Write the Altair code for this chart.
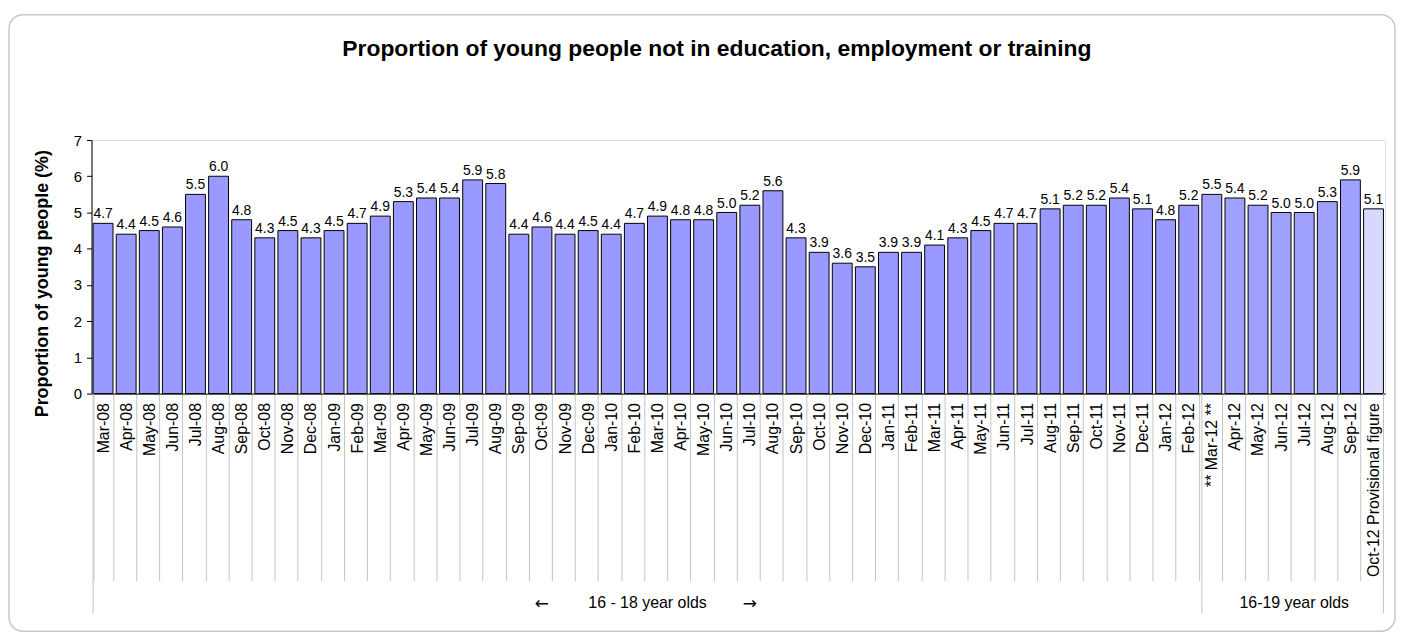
import altair as alt
import pandas as pd

months = ["Mar-08", "Apr-08", "May-08", "Jun-08", "Jul-08", "Aug-08", "Sep-08", "Oct-08", "Nov-08", "Dec-08",
          "Jan-09", "Feb-09", "Mar-09", "Apr-09", "May-09", "Jun-09", "Jul-09", "Aug-09", "Sep-09", "Oct-09",
          "Nov-09", "Dec-09", "Jan-10", "Feb-10", "Mar-10", "Apr-10", "May-10", "Jun-10", "Jul-10", "Aug-10",
          "Sep-10", "Oct-10", "Nov-10", "Dec-10", "Jan-11", "Feb-11", "Mar-11", "Apr-11", "May-11", "Jun-11",
          "Jul-11", "Aug-11", "Sep-11", "Oct-11", "Nov-11", "Dec-11", "Jan-12", "Feb-12", "** Mar-12 **", "Apr-12",
          "May-12", "Jun-12", "Jul-12", "Aug-12", "Sep-12", "Oct-12 Provisional figure"]
values = [4.7, 4.4, 4.5, 4.6, 5.5, 6.0, 4.8, 4.3, 4.5, 4.3,
          4.5, 4.7, 4.9, 5.3, 5.4, 5.4, 5.9, 5.8, 4.4, 4.6,
          4.4, 4.5, 4.4, 4.7, 4.9, 4.8, 4.8, 5.0, 5.2, 5.6,
          4.3, 3.9, 3.6, 3.5, 3.9, 3.9, 4.1, 4.3, 4.5, 4.7,
          4.7, 5.1, 5.2, 5.2, 5.4, 5.1, 4.8, 5.2, 5.5, 5.4,
          5.2, 5.0, 5.0, 5.3, 5.9, 5.1]
kinds = ["16-18"] * 48 + ["16-19"] * 7 + ["provisional"]
y_ticks = [0, 1, 2, 3, 4, 5, 6, 7]

group_names = ["16 - 18 year olds", "16-19 year olds"]
group_centers = ["Mar-10", "Jul-12"]
arrows = ["←", "→"]
arrow_at = ["Oct-09", "Jul-10"]
group_starts = ["Mar-08", "** Mar-12 **"]
group_end = ["Oct-12 Provisional figure"]

TITLE = "Proportion of young people not in education, employment or training"
FONT = "Liberation Sans"

df = pd.DataFrame({"month": months, "value": values, "kind": kinds,
                   "label": [f"{v:.1f}" for v in values]})

xscale = alt.Scale(domain=months, paddingInner=0.14, paddingOuter=0.07)
yscale = alt.Scale(domain=[0, 7], nice=False)

x_axis = alt.Axis(title=None, labelAngle=-90, labelFontSize=16, labelFont=FONT, labelColor="black",
                  tickBand="extent", tickSize=188, tickColor="#c4c4c4", tickWidth=1,
                  labelPadding=-179, domainColor="black", domainWidth=1, labelOverlap=False)
y_axis = alt.Axis(title="Proportion of young people (%)", values=y_ticks, grid=False,
                  domainColor="black", tickColor="black", tickSize=5, labelPadding=5,
                  labelFontSize=15, labelFont=FONT, labelColor="black", labelOverlap=False,
                  titleFontSize=18, titleFont=FONT, titleFontWeight="bold", titleColor="black",
                  titleAngle=-90, titleX=-49, titleY=144, titleBaseline="middle", titleAlign="center")

X = alt.X("month:N", scale=xscale, axis=x_axis, sort=None)
Y = alt.Y("value:Q", scale=yscale, axis=y_axis)

base = alt.Chart(df)

bars = base.mark_bar(stroke="black", strokeWidth=1).encode(
    x=X, y=Y,
    fill=alt.Fill("kind:N", scale=alt.Scale(domain=["16-18", "16-19", "provisional"],
                                            range=["#9999FF", "#A0A0FF", "#D8D8FF"]), legend=None),
)

texts = base.mark_text(baseline="bottom", dy=-2, fontSize=14, font=FONT, color="black").encode(
    x=X, y=Y, text="label:N",
)

rules_start = alt.Chart(pd.DataFrame({"month": group_starts})).mark_rule(color="#c4c4c4", strokeWidth=1).encode(
    x=alt.X("month:N", scale=xscale, axis=x_axis, bandPosition=0, sort=None),
    y=alt.value(255), y2=alt.value(476),
)
rules_end = alt.Chart(pd.DataFrame({"month": group_end})).mark_rule(color="#c4c4c4", strokeWidth=1).encode(
    x=alt.X("month:N", scale=xscale, axis=x_axis, bandPosition=1, sort=None),
    y=alt.value(255), y2=alt.value(476),
)

group_text = alt.Chart(pd.DataFrame({"month": group_centers, "name": group_names})).mark_text(
    fontSize=16, font=FONT, color="black", baseline="middle", align="center").encode(
    x=alt.X("month:N", scale=xscale, axis=x_axis, bandPosition=0, sort=None),
    y=alt.value(466),
    text="name:N",
)

arrow_text = alt.Chart(pd.DataFrame({"month": arrow_at, "name": arrows})).mark_text(
    fontSize=17, font="DejaVu Sans", color="black", baseline="middle", align="center").encode(
    x=alt.X("month:N", scale=xscale, axis=x_axis, sort=None),
    y=alt.value(467),
    text="name:N",
)

title = alt.Chart(pd.DataFrame({"t": [TITLE]})).mark_text(
    fontSize=23, font=FONT, fontWeight="bold", color="black", align="center", baseline="alphabetic").encode(
    x=alt.value(629), y=alt.value(-85), text="t:N")

frame = alt.Chart(pd.DataFrame({"a": [0]})).mark_rect(
    fill="white", fillOpacity=0, stroke="#c8c8c8", strokeWidth=1.5, cornerRadius=14).encode(
    x=alt.value(-83), x2=alt.value(1311), y=alt.value(-126), y2=alt.value(494))

chart = alt.layer(frame, title, bars, texts, rules_start, rules_end, group_text, arrow_text).properties(
    width=1301, height=255,
    autosize=alt.AutoSizeParams(type="none"),
    padding={"left": 84, "top": 131, "right": 12, "bottom": 240},
).configure_view(stroke=None).configure(background="white")

chart.save("out.html", embed_options={"renderer": "svg", "actions": False})
